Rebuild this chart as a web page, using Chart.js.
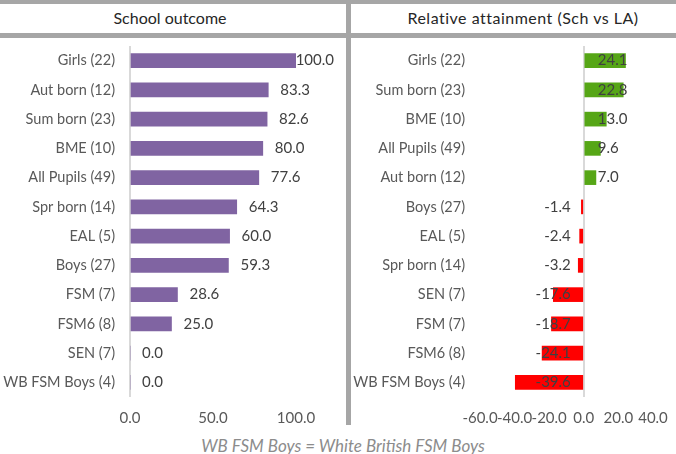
<!DOCTYPE html>
<html lang="en">
<head>
    <meta charset="UTF-8">
    <title>School outcome vs relative attainment</title>
    <style>
        body {
            margin: 0;
            width: 676px;
            height: 454px;
            background: #fff;
            font-family: Lato, 'Open Sans', sans-serif;
            position: relative;
            overflow: hidden;
        }
        .line { position: absolute; background: #a6a6a6; }
        .title {
            position: absolute;
            top: 8px;
            font-size: 16px;
            color: #262626;
            white-space: nowrap;
            transform: translateX(-50%);
        }
        .footer {
            position: absolute;
            top: 435px;
            left: 343px;
            transform: translateX(-50%);
            font-size: 17px;
            font-style: italic;
            color: #8c8c8c;
            white-space: nowrap;
        }
        .panel { position: absolute; top: 38px; height: 387px; }
    </style>
    <script src="https://cdn.jsdelivr.net/npm/chart.js"></script>
</head>
<body>
    <div class="line" style="left:0;top:0;width:676px;height:4px"></div>
    <div class="line" style="left:0;top:33px;width:676px;height:5px"></div>
    <div class="line" style="left:346px;top:0;width:5px;height:425px"></div>
    <div class="title" style="left:170px">School outcome</div>
    <div class="title" style="left:523px;letter-spacing:0.5px">Relative attainment (Sch vs LA)</div>

    <div class="panel" style="left:0;width:345px"><canvas id="outcomeChart"></canvas></div>
    <div class="panel" style="left:351px;width:325px"><canvas id="relChart"></canvas></div>

    <div class="footer">WB FSM Boys = White British FSM Boys</div>

    <script>
        // School outcome (left)
        const outcomeLabels = ['Girls (22)', 'Aut born (12)', 'Sum born (23)', 'BME (10)', 'All Pupils (49)',
            'Spr born (14)', 'EAL (5)', 'Boys (27)', 'FSM (7)', 'FSM6 (8)', 'SEN (7)', 'WB FSM Boys (4)'];
        const outcomeValues = [100.0, 83.3, 82.6, 80.0, 77.6, 64.3, 60.0, 59.3, 28.6, 25.0, 0.0, 0.0];
        const outcomeTicks = [0, 50, 100];

        // Relative attainment, school vs LA (right)
        const relLabels = ['Girls (22)', 'Sum born (23)', 'BME (10)', 'All Pupils (49)', 'Aut born (12)',
            'Boys (27)', 'EAL (5)', 'Spr born (14)', 'SEN (7)', 'FSM (7)', 'FSM6 (8)', 'WB FSM Boys (4)'];
        const relValues = [24.1, 22.8, 13.0, 9.6, 7.0, -1.4, -2.4, -3.2, -17.6, -18.7, -24.1, -39.6];
        const relTicks = [-60, -40, -20, 0, 20, 40];

        const FONT = 'Lato';
        const TEXT = '#595959';

        // value labels, drawn by hand so they sit like the Excel ones
        const valueLabels = {
            id: 'valueLabels',
            afterDatasetsDraw(chart, args, opts) {
                const ctx = chart.ctx;
                const meta = chart.getDatasetMeta(0);
                const zero = chart.scales.x.getPixelForValue(0);
                ctx.save();
                ctx.font = '15px ' + FONT;
                ctx.fillStyle = '#404040';
                ctx.textBaseline = 'middle';
                meta.data.forEach((bar, i) => {
                    const v = chart.data.datasets[0].data[i];
                    const txt = v.toFixed(1);
                    if (opts.mode === 'zero') {
                        if (v >= 0) {
                            ctx.textAlign = 'left';
                            ctx.fillText(txt, zero + 14, bar.y);
                        } else {
                            ctx.textAlign = 'right';
                            ctx.fillText(txt, zero - 13, bar.y);
                        }
                    } else {
                        const w = ctx.measureText(txt).width;
                        let x = bar.x + 12;
                        if (x + w > opts.maxRight) x = opts.maxRight - w;
                        ctx.textAlign = 'left';
                        ctx.fillText(txt, x, bar.y);
                    }
                });
                ctx.restore();
            }
        };

        function makeChart(id, labels, values, colors, ticks, yWidth, padRight, labelOpts) {
            return new Chart(document.getElementById(id), {
                type: 'bar',
                data: {
                    labels: labels,
                    datasets: [{
                        data: values,
                        backgroundColor: colors,
                        barThickness: 14,
                        borderWidth: 0
                    }]
                },
                options: {
                    indexAxis: 'y',
                    responsive: true,
                    maintainAspectRatio: false,
                    animation: false,
                    layout: { padding: { top: 8, right: padRight, left: 0, bottom: 0 } },
                    plugins: {
                        legend: { display: false },
                        tooltip: { enabled: false },
                        valueLabels: labelOpts
                    },
                    scales: {
                        x: {
                            min: ticks[0],
                            max: ticks[ticks.length - 1],
                            afterBuildTicks: s => { s.ticks = ticks.map(v => ({ value: v })); },
                            afterFit: s => {
                                s.height = 28;
                                s.paddingLeft = 0;
                                s.paddingRight = 0;
                            },
                            border: { display: false },
                            grid: {
                                drawTicks: false,
                                color: c => c.tick && c.tick.value === 0 ? '#d9d9d9' : 'rgba(0,0,0,0)',
                                lineWidth: 2
                            },
                            ticks: {
                                autoSkip: false,
                                maxRotation: 0,
                                padding: 12,
                                color: TEXT,
                                font: { family: FONT, size: 15 },
                                callback: v => Number(v).toFixed(1)
                            }
                        },
                        y: {
                            afterFit: s => {
                                s.width = yWidth;
                                s.paddingTop = 0;
                                s.paddingBottom = 0;
                            },
                            border: { display: false },
                            grid: { display: false, drawTicks: false },
                            ticks: {
                                padding: 15,
                                color: TEXT,
                                font: { family: FONT, size: 14.5 }
                            }
                        }
                    }
                },
                plugins: [valueLabels]
            });
        }

        makeChart('outcomeChart', outcomeLabels, outcomeValues, '#8064a2', outcomeTicks, 130, 49,
            { mode: 'end', maxRight: 334 });

        makeChart('relChart', relLabels, relValues,
            relValues.map(v => v >= 0 ? '#56a616' : '#ff0000'), relTicks, 129, 23,
            { mode: 'zero' });
    </script>
</body>
</html>
